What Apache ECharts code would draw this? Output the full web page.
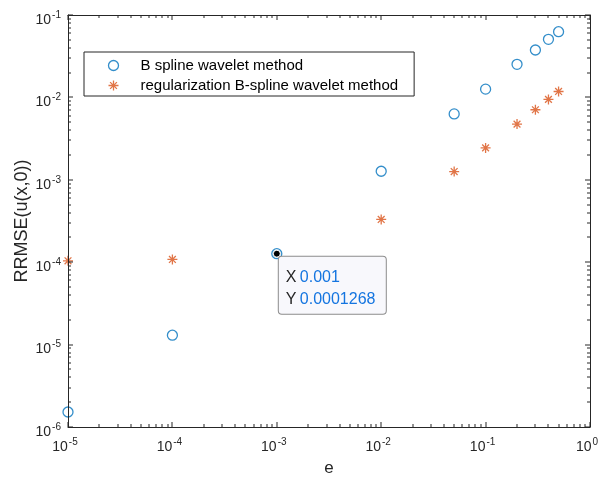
<!DOCTYPE html>
<html>
<head>
<meta charset="utf-8">
<script src="https://cdn.jsdelivr.net/npm/echarts@6/dist/echarts.min.js"></script>
<style>
html,body{margin:0;padding:0;background:#fff;}
#chart{width:605px;height:481px;}
</style>
</head>
<body>
<div id="chart"></div>
<script>
// ---- data ----
var xValues = [1e-5, 1e-4, 1e-3, 1e-2, 0.05, 0.1, 0.2, 0.3, 0.4, 0.5];
var bSpline = [1.52e-6, 1.3e-5, 1.268e-4, 1.27e-3, 6.3e-3, 1.26e-2, 2.52e-2, 3.76e-2, 5.07e-2, 6.27e-2];
var regularized = [1.04e-4, 1.08e-4, null, 3.3e-4, 1.26e-3, 2.44e-3, 4.74e-3, 7.08e-3, 9.46e-3, 1.18e-2];
var seriesNames = ['B spline wavelet method', 'regularization B-spline wavelet method'];
var xTickExps = [-5, -4, -3, -2, -1, 0];
var yTickExps = [-6, -5, -4, -3, -2, -1];
var dataTip = {x: 0.001, y: 0.0001268, xLabel: '0.001', yLabel: '0.0001268'};

function minorTicks(exps) {
  var out = [];
  for (var i = 0; i < exps.length - 1; i++) {
    for (var k = 2; k <= 9; k++) out.push(k * Math.pow(10, exps[i]));
  }
  return out;
}
function majorTicks(exps) { return exps.map(function (e) { return Math.pow(10, e); }); }
function expOf(v) { return Math.round(Math.log(v) / Math.LN10); }

var AX = '#262626';
var FONT = 'Liberation Sans, Arial, Helvetica, sans-serif';
var starPath = 'path://M5,0L5,10M0,5L10,5M1.6,1.6L8.4,8.4M8.4,1.6L1.6,8.4';
var xMin = Math.pow(10, xTickExps[0]), xMax = Math.pow(10, xTickExps[xTickExps.length - 1]);
var yMin = Math.pow(10, yTickExps[0]), yMax = Math.pow(10, yTickExps[yTickExps.length - 1]);

function labelFmt(v) { return '{b|10}{s|' + expOf(v) + '}'; }
var labelRich = {
  b: {fontSize: 14, fontFamily: FONT, color: AX, lineHeight: 16, padding: [4, 0, 0, 0]},
  s: {fontSize: 10, fontFamily: FONT, color: AX, lineHeight: 12, verticalAlign: 'top', padding: [0, 0, 0, 1]}
};

function makeAxis(dim, pos, min, max, withLabels) {
  var ax = {
    type: 'log', logBase: 10, position: pos, min: min, max: max,
    axisLine: {show: true, onZero: false, lineStyle: {color: AX, width: 1}},
    axisTick: {show: false},
    axisLabel: {show: false},
    splitLine: {show: false},
    minorTick: {show: false},
    z: 5
  };
  if (withLabels) {
    ax.axisLabel = {
      show: true, customValues: majorTicks(dim === 'x' ? xTickExps : yTickExps),
      formatter: labelFmt, rich: labelRich,
      margin: dim === 'x' ? 10 : 7,
      padding: dim === 'x' ? [0, 6, 0, 0] : [6, 0, 0, 0]
    };
  }
  return ax;
}

var xAxes = [makeAxis('x', 'bottom', xMin, xMax, true), makeAxis('x', 'top', xMin, xMax, false)];
xAxes[0].name = 'e';
xAxes[0].nameLocation = 'middle';
xAxes[0].nameGap = 33;
xAxes[0].nameMoveOverlap = false;
xAxes[0].nameTextStyle = {fontSize: 17, fontFamily: FONT, color: AX};

var yAxes = [makeAxis('y', 'left', yMin, yMax, true), makeAxis('y', 'right', yMin, yMax, false)];
yAxes[0].name = 'RRMSE(u(x,0))';
yAxes[0].nameLocation = 'middle';
yAxes[0].nameGap = 37;
yAxes[0].nameMoveOverlap = false;
yAxes[0].nameTextStyle = {fontSize: 18, fontFamily: FONT, color: AX};

function pairs(ys) {
  var out = [];
  for (var i = 0; i < xValues.length; i++) if (ys[i] != null) out.push([xValues[i], ys[i]]);
  return out;
}

var chart = echarts.init(document.getElementById('chart'), null, {renderer: 'canvas'});
chart.setOption({
  animation: false,
  backgroundColor: '#ffffff',
  grid: {left: 68, right: 15, top: 15, bottom: 54, containLabel: false, outerBoundsMode: 'none'},
  xAxis: xAxes,
  yAxis: yAxes,
  legend: {
    orient: 'vertical', left: 84, top: 52,
    padding: [6, 16, 3, 22], itemGap: 5, itemWidth: 10, itemHeight: 10,
    backgroundColor: '#ffffff', borderColor: AX, borderWidth: 1, borderRadius: 0,
    textStyle: {fontSize: 15, fontFamily: FONT, color: '#000', lineHeight: 14, padding: [0, 0, 0, 17]},
    selectedMode: false,
    data: [
      {name: seriesNames[0], icon: 'circle', itemStyle: {color: 'none', borderColor: '#0072BD', borderWidth: 1.3}},
      {name: seriesNames[1], icon: starPath, itemStyle: {color: 'none', borderColor: '#D95319', borderWidth: 1.3}}
    ]
  },
  series: [
    {
      name: seriesNames[0], type: 'scatter', xAxisIndex: 0, yAxisIndex: 0,
      data: pairs(bSpline), symbol: 'circle', symbolSize: 10,
      itemStyle: {color: 'none', borderColor: '#0072BD', borderWidth: 1.3},
      markPoint: {
        symbol: 'circle', symbolSize: 7,
        itemStyle: {color: '#000', borderColor: '#fff', borderWidth: 1},
        data: [{coord: [dataTip.x, dataTip.y], value: dataTip.y}],
        label: {
          show: true, position: [6, 7], align: 'left', verticalAlign: 'top',
          formatter: '{k|X} {v|' + dataTip.xLabel + '}\n{k|Y} {v|' + dataTip.yLabel + '}',
          backgroundColor: '#f8f8fc', borderColor: '#8c8c8c', borderWidth: 1, borderRadius: 3,
          padding: [10, 9, 3, 7], width: 91,
          rich: {
            k: {fontSize: 16, fontFamily: FONT, color: '#262626', lineHeight: 22},
            v: {fontSize: 16, fontFamily: FONT, color: '#1475e0', lineHeight: 22}
          }
        },
        z: 10
      }
    },
    {
      name: seriesNames[1], type: 'scatter', xAxisIndex: 0, yAxisIndex: 0,
      data: pairs(regularized), symbol: starPath, symbolSize: 10,
      itemStyle: {color: 'none', borderColor: '#D95319', borderWidth: 1.3}
    }
  ]
});

// tick marks on all four sides, placed through the axes' own scales
function drawTicks() {
  var els = [];
  var yb = chart.convertToPixel({yAxisIndex: 0}, yMin);
  var yt = chart.convertToPixel({yAxisIndex: 0}, yMax);
  var xl = chart.convertToPixel({xAxisIndex: 0}, xMin);
  var xr = chart.convertToPixel({xAxisIndex: 0}, xMax);
  function rect(x, y, w, h) {
    return {type: 'rect', shape: {x: x, y: y, width: w, height: h}, style: {fill: AX}, silent: true, z: 50};
  }
  function addX(v, len) {
    var x = Math.round(chart.convertToPixel({xAxisIndex: 0}, v)) - 0.5;
    els.push(rect(x, Math.round(yb) - len, 1, len));
    els.push(rect(x, Math.round(yt), 1, len));
  }
  function addY(v, len) {
    var y = Math.round(chart.convertToPixel({yAxisIndex: 0}, v)) - 0.5;
    els.push(rect(Math.round(xl), y, len, 1));
    els.push(rect(Math.round(xr) - len, y, len, 1));
  }
  majorTicks(xTickExps).forEach(function (v) { addX(v, 5); });
  minorTicks(xTickExps).forEach(function (v) { addX(v, 3); });
  majorTicks(yTickExps).forEach(function (v) { addY(v, 5); });
  minorTicks(yTickExps).forEach(function (v) { addY(v, 3); });
  chart.setOption({graphic: {elements: els}});
}
drawTicks();
</script>
</body>
</html>
